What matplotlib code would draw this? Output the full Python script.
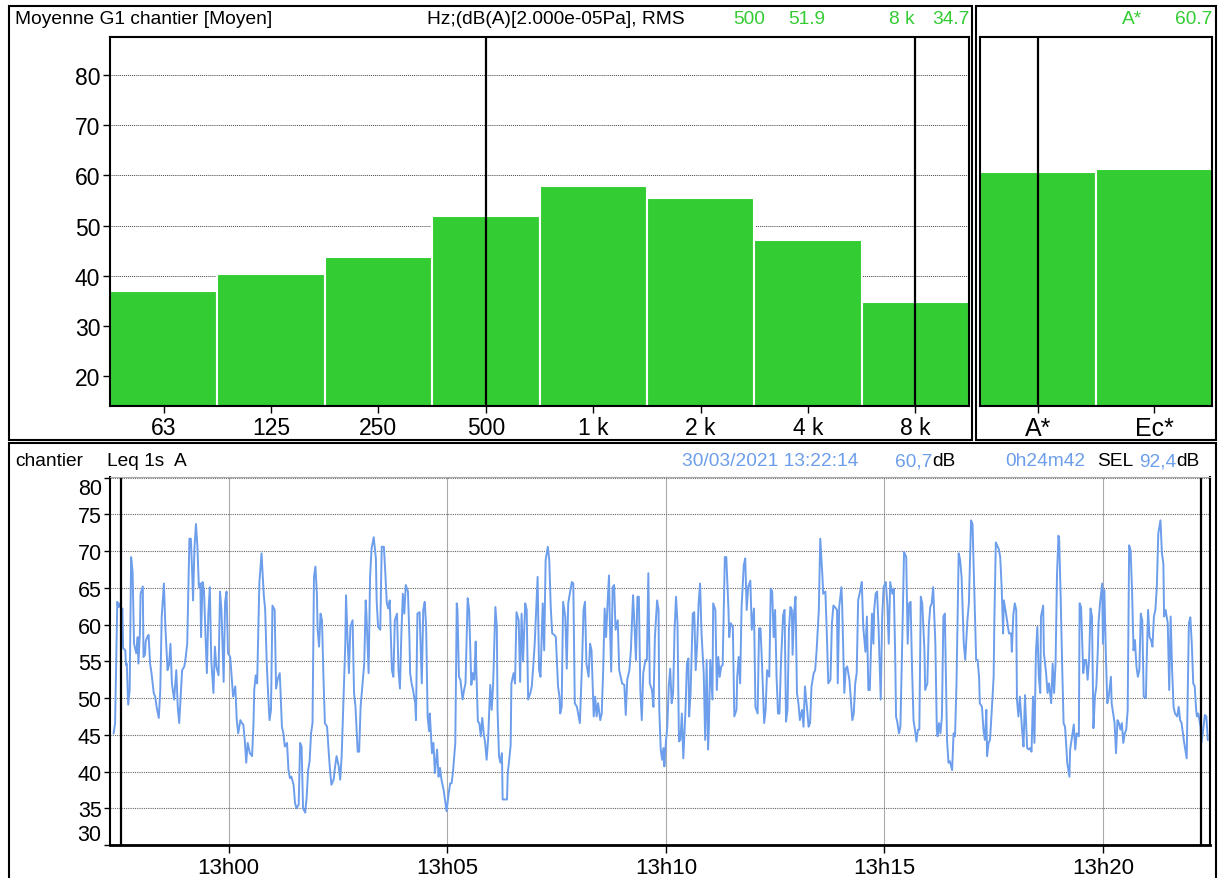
import matplotlib.pyplot as plt
import matplotlib.dates as mdates
from matplotlib.patches import Rectangle
import numpy as np
import pandas as pd

plt.rcParams['font.family'] = ['Liberation Sans', 'DejaVu Sans']

# octave spectrum (dB(A))
bands = ['63', '125', '250', '500', '1 k', '2 k', '4 k', '8 k']
band_db = [37.0, 40.3, 43.7, 51.9, 57.8, 55.5, 47.1, 34.7]
glob_labels = ['A*', 'Ec*']
glob_db = [60.7, 61.2]

# Leq 1s A, (seconds after 12:57:17, dB)
start = '2021-03-30 12:57:17'
t_cursor = ['2021-03-30 12:57:32', '2021-03-30 13:22:14']
leq_1s = [
    (5, 45.2), (7, 46.6), (10, 63.1), (12, 62.4), (14, 62.9), (16, 61.7), (17, 62.2), (18, 56.8),
    (21, 56.5), (22, 54.5), (23, 54.7), (25, 49.1), (27, 51.1), (29, 69.2), (31, 67.2), (33, 57.4),
    (36, 56.1), (38, 58.3), (39, 54.7), (41, 58.8), (42, 64.2), (45, 65.2), (46, 55.6), (48, 55.9),
    (49, 57.7), (51, 58.3), (53, 58.6), (55, 54.7), (57, 53.4), (60, 50.7), (62, 50.2), (64, 48.8),
    (67, 47.3), (69, 51.1), (71, 61.1), (74, 65.6), (76, 59.7), (79, 53.8), (81, 54.5), (83, 57.4),
    (85, 52.0), (88, 49.8), (91, 53.8), (93, 48.8), (95, 46.6), (97, 50.2), (99, 53.8), (102, 54.3),
    (104, 55.6), (106, 57.4), (109, 71.7), (111, 71.7), (113, 66.5), (114, 63.3), (116, 70.6), (118, 73.7),
    (120, 70.6), (122, 65.1), (124, 65.6), (125, 58.3), (127, 65.8), (129, 64.7), (131, 58.8), (133, 53.4),
    (135, 61.5), (137, 65.1), (139, 55.2), (142, 50.7), (144, 57.0), (146, 54.3), (149, 53.1), (151, 64.5),
    (153, 62.0), (156, 52.2), (158, 63.1), (160, 64.5), (162, 56.1), (165, 55.6), (167, 52.9), (169, 50.2),
    (172, 51.6), (174, 47.0), (176, 45.2), (179, 47.0), (181, 46.6), (183, 46.4), (185, 44.3), (187, 41.2),
    (189, 43.9), (192, 42.5), (195, 42.1), (197, 46.6), (198, 51.1), (200, 53.1), (202, 52.0), (205, 65.6),
    (208, 69.7), (211, 64.2), (213, 62.0), (215, 55.2), (217, 50.7), (219, 47.0), (221, 48.4), (223, 62.6),
    (226, 62.0), (228, 51.3), (230, 52.5), (233, 53.4), (234, 51.1), (236, 46.1), (238, 45.2), (240, 43.4),
    (243, 43.9), (245, 40.2), (247, 39.1), (249, 39.3), (252, 38.2), (254, 35.7), (256, 35.0), (259, 35.5),
    (261, 43.9), (263, 43.4), (265, 35.0), (268, 34.4), (270, 36.6), (272, 40.2), (274, 41.4), (276, 45.2),
    (278, 46.6), (280, 66.5), (282, 67.9), (284, 64.2), (285, 59.3), (287, 57.0), (289, 61.5), (291, 60.6),
    (293, 52.9), (295, 46.6), (298, 46.1), (300, 43.0), (302, 40.2), (304, 38.2), (307, 38.9), (309, 40.7),
    (311, 42.1), (314, 40.7), (316, 38.9), (318, 42.1), (320, 48.4), (323, 57.4), (324, 64.0), (326, 58.3),
    (328, 53.4), (330, 59.7), (333, 60.6), (335, 50.7), (337, 48.8), (340, 42.7), (342, 42.7), (344, 48.8),
    (346, 51.1), (349, 54.7), (351, 63.3), (352, 61.5), (355, 53.4), (357, 66.5), (359, 70.3), (362, 71.9),
    (365, 69.0), (366, 63.3), (368, 59.7), (371, 59.3), (373, 70.6), (376, 70.6), (378, 66.9), (380, 62.9),
    (382, 62.2), (384, 63.3), (387, 53.8), (389, 52.9), (391, 60.6), (394, 61.5), (396, 53.8), (398, 51.3),
    (400, 58.8), (402, 64.2), (404, 61.5), (406, 65.4), (409, 64.5), (411, 58.3), (412, 53.4), (414, 52.0),
    (416, 51.1), (419, 49.3), (420, 47.0), (422, 61.5), (425, 61.7), (428, 52.0), (430, 62.0), (432, 63.1),
    (434, 59.7), (436, 47.5), (438, 45.5), (439, 47.9), (442, 42.5), (444, 43.9), (446, 39.8), (449, 43.0),
    (451, 39.3), (453, 40.5), (455, 38.9), (458, 37.5), (460, 36.0), (462, 34.6), (465, 37.1), (467, 38.4),
    (469, 38.4), (471, 40.2), (474, 43.9), (476, 62.9), (477, 62.0), (479, 52.9), (481, 52.5), (484, 49.8),
    (486, 51.1), (488, 52.0), (491, 63.6), (493, 62.0), (496, 51.8), (498, 53.4), (500, 52.5), (502, 57.7),
    (503, 53.4), (505, 46.8), (507, 46.6), (509, 44.8), (511, 47.3), (513, 45.2), (515, 43.9), (517, 41.6),
    (519, 44.3), (522, 51.8), (524, 48.4), (526, 52.0), (529, 62.4), (531, 59.7), (532, 48.4), (534, 42.1),
    (536, 41.2), (538, 42.5), (539, 36.2), (541, 36.2), (545, 36.2), (546, 39.8), (548, 41.6), (550, 43.6),
    (551, 52.0), (554, 53.4), (556, 52.0), (558, 61.7), (561, 60.6), (563, 52.2), (565, 61.5), (567, 55.0),
    (570, 62.9), (572, 62.0), (574, 49.8), (577, 50.7), (579, 51.6), (581, 54.3), (583, 57.4), (587, 66.5),
    (589, 53.8), (591, 52.9), (594, 62.9), (596, 56.5), (598, 68.8), (601, 70.6), (603, 68.8), (605, 62.4),
    (607, 58.8), (610, 58.6), (612, 58.3), (615, 51.6), (617, 50.2), (618, 47.9), (620, 48.8), (622, 63.1),
    (625, 61.1), (627, 54.0), (629, 62.9), (632, 64.7), (634, 65.8), (636, 65.6), (638, 49.3), (641, 48.8),
    (643, 47.7), (645, 46.6), (648, 54.7), (650, 62.0), (652, 63.1), (654, 54.7), (657, 52.9), (659, 57.4),
    (661, 56.5), (664, 47.5), (666, 50.2), (668, 47.5), (670, 49.3), (673, 47.0), (675, 47.9), (677, 53.8),
    (679, 62.2), (681, 58.3), (683, 62.9), (685, 66.7), (686, 61.1), (688, 53.6), (690, 65.1), (692, 65.4),
    (694, 59.3), (697, 60.6), (699, 53.8), (701, 52.9), (703, 52.0), (706, 51.8), (708, 47.7), (710, 52.5),
    (713, 53.8), (715, 56.5), (718, 64.0), (719, 62.0), (722, 55.2), (724, 63.8), (726, 63.8), (728, 51.1),
    (730, 47.0), (732, 53.4), (735, 55.2), (737, 55.2), (739, 67.0), (741, 52.0), (744, 51.1), (746, 48.8),
    (748, 58.3), (751, 63.3), (753, 62.0), (754, 48.4), (756, 43.0), (758, 41.6), (760, 43.2), (761, 40.7),
    (763, 43.9), (765, 46.1), (767, 51.6), (769, 54.0), (771, 49.3), (773, 50.7), (775, 59.3), (777, 63.8),
    (779, 60.2), (781, 44.1), (783, 44.3), (785, 47.9), (787, 41.8), (790, 48.4), (792, 54.7), (794, 55.4),
    (795, 47.5), (797, 50.7), (800, 61.5), (802, 61.7), (804, 53.8), (806, 57.4), (808, 62.9), (810, 65.6),
    (812, 58.8), (815, 53.4), (817, 44.3), (819, 55.2), (821, 43.0), (822, 45.7), (824, 55.2), (827, 49.8),
    (828, 62.9), (831, 62.0), (833, 51.1), (835, 55.6), (837, 52.9), (839, 54.3), (841, 54.5), (844, 69.2),
    (846, 69.2), (849, 62.0), (850, 58.3), (852, 60.2), (855, 59.7), (857, 47.5), (860, 48.4), (861, 52.9),
    (863, 55.6), (865, 52.0), (867, 62.4), (870, 68.1), (872, 69.0), (874, 62.0), (876, 65.1), (879, 66.0),
    (881, 59.3), (884, 62.2), (886, 48.8), (889, 47.9), (891, 59.5), (893, 59.5), (895, 54.7), (898, 46.6),
    (900, 48.4), (902, 53.8), (905, 52.9), (907, 64.9), (909, 64.5), (911, 58.3), (913, 62.0), (915, 52.9),
    (917, 47.9), (919, 47.9), (921, 54.7), (924, 61.3), (926, 62.0), (928, 46.8), (930, 48.4), (932, 59.3),
    (934, 62.4), (936, 62.0), (937, 55.9), (939, 61.5), (941, 63.8), (943, 50.7), (945, 49.3), (947, 47.0),
    (950, 48.4), (952, 46.1), (954, 51.6), (957, 48.4), (959, 46.1), (961, 46.6), (963, 51.6), (966, 53.4),
    (968, 53.8), (970, 56.5), (973, 62.0), (975, 71.7), (978, 66.5), (979, 64.2), (982, 64.5), (984, 58.8),
    (986, 52.0), (989, 52.5), (991, 60.2), (993, 62.6), (995, 62.4), (998, 62.0), (999, 52.0), (1001, 62.4),
    (1004, 65.1), (1005, 62.9), (1008, 50.7), (1010, 54.0), (1012, 54.3), (1015, 52.5), (1017, 49.8), (1019, 47.0),
    (1021, 47.9), (1023, 52.0), (1025, 53.4), (1027, 63.3), (1030, 64.7), (1032, 65.8), (1034, 59.7), (1037, 56.3),
    (1039, 61.1), (1041, 51.1), (1043, 51.1), (1046, 61.5), (1048, 57.4), (1049, 62.0), (1051, 64.2), (1053, 64.5),
    (1055, 59.7), (1058, 49.8), (1060, 61.1), (1062, 65.1), (1065, 65.8), (1067, 62.9), (1069, 57.4), (1071, 65.8),
    (1074, 64.2), (1076, 64.9), (1078, 55.0), (1079, 47.5), (1081, 46.6), (1083, 45.2), (1085, 46.1), (1087, 55.2),
    (1090, 69.9), (1093, 69.2), (1095, 57.4), (1097, 62.9), (1099, 63.1), (1101, 54.0), (1103, 47.0), (1105, 45.7),
    (1107, 44.1), (1109, 45.7), (1111, 45.7), (1113, 63.8), (1115, 62.9), (1118, 56.5), (1119, 51.1), (1122, 52.0),
    (1124, 59.9), (1126, 62.4), (1128, 62.9), (1130, 65.1), (1133, 57.4), (1135, 45.7), (1136, 44.8), (1138, 46.6),
    (1140, 45.2), (1142, 47.5), (1144, 61.1), (1146, 61.5), (1149, 44.3), (1151, 41.2), (1153, 41.4), (1156, 40.2),
    (1158, 45.2), (1160, 44.8), (1162, 52.0), (1165, 69.7), (1167, 68.8), (1169, 66.5), (1172, 57.4), (1174, 55.2),
    (1177, 60.6), (1179, 62.9), (1182, 74.2), (1184, 73.7), (1186, 66.5), (1189, 55.2), (1191, 55.2), (1193, 52.9),
    (1194, 49.3), (1197, 48.8), (1199, 45.7), (1201, 44.3), (1203, 48.4), (1204, 42.1), (1206, 43.9), (1208, 44.3),
    (1211, 49.3), (1213, 52.9), (1214, 60.6), (1216, 71.2), (1220, 70.3), (1222, 69.2), (1224, 65.1), (1226, 58.8),
    (1227, 63.3), (1230, 61.5), (1232, 60.2), (1234, 58.8), (1237, 58.8), (1238, 56.3), (1240, 61.3), (1242, 62.9),
    (1244, 62.0), (1245, 49.8), (1247, 47.5), (1249, 50.2), (1252, 45.7), (1254, 43.4), (1256, 50.4), (1259, 43.2),
    (1261, 43.0), (1263, 43.2), (1265, 42.7), (1267, 50.2), (1269, 43.9), (1271, 56.1), (1273, 59.7), (1275, 52.9),
    (1277, 50.7), (1278, 61.1), (1281, 62.6), (1282, 56.1), (1285, 53.4), (1287, 50.7), (1289, 52.0), (1292, 49.3),
    (1294, 54.7), (1296, 50.7), (1298, 54.7), (1300, 66.9), (1302, 72.1), (1303, 71.5), (1305, 63.8), (1307, 54.7),
    (1309, 46.6), (1311, 46.1), (1313, 43.0), (1314, 41.2), (1317, 39.3), (1318, 43.0), (1320, 44.3), (1323, 46.4),
    (1325, 43.0), (1327, 45.2), (1330, 44.8), (1331, 62.9), (1333, 62.4), (1336, 53.4), (1338, 55.2), (1340, 55.2),
    (1342, 52.5), (1344, 55.2), (1346, 62.2), (1348, 61.1), (1350, 45.9), (1352, 50.2), (1354, 51.6), (1356, 56.5),
    (1357, 60.2), (1359, 62.9), (1362, 65.6), (1363, 57.4), (1365, 64.7), (1367, 56.1), (1369, 49.3), (1371, 50.2),
    (1374, 52.9), (1375, 49.3), (1377, 47.9), (1379, 46.6), (1381, 42.5), (1383, 47.0), (1385, 46.6), (1387, 45.7),
    (1389, 46.6), (1391, 43.9), (1393, 45.2), (1395, 45.7), (1397, 48.4), (1399, 70.8), (1401, 70.1), (1403, 64.7),
    (1405, 56.5), (1407, 57.9), (1409, 54.3), (1411, 52.9), (1413, 53.8), (1415, 61.5), (1417, 60.6), (1419, 50.2),
    (1422, 50.0), (1423, 54.7), (1425, 62.0), (1427, 58.3), (1429, 57.9), (1431, 57.0), (1433, 61.1), (1435, 62.0),
    (1437, 65.1), (1439, 72.4), (1442, 74.2), (1444, 69.7), (1446, 68.3), (1447, 61.1), (1449, 62.0), (1452, 60.2),
    (1454, 51.1), (1456, 61.1), (1458, 53.8), (1460, 48.8), (1462, 47.9), (1465, 47.5), (1467, 48.8), (1469, 47.0),
    (1471, 46.6), (1474, 44.3), (1476, 43.0), (1478, 41.8), (1481, 60.2), (1483, 61.0), (1485, 57.4), (1487, 52.0),
    (1489, 51.6), (1491, 48.4), (1492, 47.5), (1494, 47.9), (1497, 46.1), (1498, 43.9), (1500, 45.2), (1503, 47.7),
    (1505, 47.5), (1507, 44.3),
]

GREEN = '#33cc33'
BLUE = '#6d9eeb'
W, H = 1220, 879


def fx(px):
    return px / W


def fy(py):
    return 1 - py / H


fig = plt.figure(figsize=(W / 100, H / 100), dpi=100)

# panel frames
for x0, y0, x1, y1 in [(9, 7, 972, 441), (976, 7, 1216, 441), (9, 444, 1216, 900)]:
    fig.add_artist(Rectangle((fx(x0), fy(y1)), (x1 - x0) / W, (y1 - y0) / H,
                             fill=False, lw=1.5, ec='black', transform=fig.transFigure))

# ---- spectrum ----
ax1 = fig.add_axes([fx(110), fy(407), (969 - 110) / W, (407 - 38) / H])
xb = np.arange(len(bands))
ax1.bar(xb, band_db, width=1.0, color=GREEN, edgecolor='white', linewidth=1.5)
ax1.set_axisbelow(True)
ax1.set_xlim(-0.5, len(bands) - 0.5)
ax1.set_ylim(14, 87.6)
ax1.set_yticks(range(20, 81, 10))
ax1.set_xticks(xb, bands)
ax1.yaxis.grid(True, linestyle=(0, (1, 1)), color='#444444', lw=0.7)
ax1.axvline(3, color='black', lw=1.6)
ax1.axvline(7, color='black', lw=1.6)
ax1.tick_params(labelsize=16.5, length=5, width=1, pad=2)
for s in ax1.spines.values():
    s.set_linewidth(1.5)

ax2 = fig.add_axes([fx(980), fy(407), (1212 - 980) / W, (407 - 38) / H])
ax2.bar([0, 1], glob_db, width=1.0, color=GREEN, edgecolor='white', linewidth=1.5)
ax2.set_xlim(-0.5, 1.5)
ax2.set_ylim(14, 87.6)
ax2.set_yticks([])
ax2.set_xticks([0, 1], glob_labels)
ax2.axvline(0, color='black', lw=1.6)
ax2.tick_params(labelsize=18, length=5, width=1, pad=2)
for s in ax2.spines.values():
    s.set_linewidth(1.5)

# ---- time history ----
t0 = pd.Timestamp(start)
secs, vals = zip(*leq_1s)
times = (t0 + pd.to_timedelta(list(secs), unit='s')).to_numpy()

ax3 = fig.add_axes([fx(110), fy(846), (1210 - 110) / W, (846 - 478) / H])
ax3.plot(times, vals, color=BLUE, lw=1.4)
ax3.set_xlim(t0.to_numpy(), (t0 + pd.Timedelta(seconds=1510)).to_numpy())
ax3.set_ylim(30, 80.1)
ax3.set_yticks(range(30, 81, 5))
ax3.xaxis.set_major_locator(mdates.MinuteLocator(byminute=range(0, 60, 5)))
ax3.xaxis.set_major_formatter(mdates.DateFormatter('%Hh%M'))
ax3.yaxis.grid(True, linestyle=(0, (1, 1)), color='#666666', lw=0.8)
ax3.xaxis.grid(True, color='#aaaaaa', lw=0.8)
for tc in t_cursor:
    ax3.axvline(pd.Timestamp(tc).to_numpy(), color='black', lw=1.6)
ax3.tick_params(axis='x', labelsize=16, length=6, width=1, pad=3)
ax3.tick_params(axis='y', labelsize=15.5, length=4, width=1, pad=2)
ax3.spines['top'].set_color('#aaaaaa')
ax3.spines['left'].set_linewidth(1.5)
ax3.spines['bottom'].set_linewidth(2)
ax3.spines['right'].set_linewidth(1.5)
yt = ax3.yaxis.get_major_ticks()
yt[0].label1.set_va('bottom')
yt[-1].label1.set_va('top')

# ---- headers ----
hs = 13.8
fig.text(fx(15), fy(20), 'Moyenne G1 chantier [Moyen]', fontsize=hs, va='center')
fig.text(fx(427), fy(20), 'Hz;(dB(A)[2.000e-05Pa], RMS', fontsize=hs, va='center')
fig.text(fx(733), fy(20), '500', fontsize=hs, va='center', color=GREEN)
fig.text(fx(825), fy(20), '51.9', fontsize=hs, va='center', ha='right', color=GREEN)
fig.text(fx(889), fy(20), '8 k', fontsize=hs, va='center', color=GREEN)
fig.text(fx(970), fy(20), '34.7', fontsize=hs, va='center', ha='right', color=GREEN)
fig.text(fx(1122), fy(20), 'A*', fontsize=hs, va='center', color=GREEN)
fig.text(fx(1212), fy(20), '60.7', fontsize=hs, va='center', ha='right', color=GREEN)

fig.text(fx(15), fy(462), 'chantier', fontsize=hs, va='center')
fig.text(fx(107), fy(462), 'Leq 1s  A', fontsize=hs, va='center')
fig.text(fx(858), fy(462), '30/03/2021 13:22:14', fontsize=hs, va='center', ha='right', color=BLUE)
fig.text(fx(932), fy(462), '60,7', fontsize=hs, va='center', ha='right', color=BLUE)
fig.text(fx(932), fy(462), 'dB', fontsize=hs, va='center')
fig.text(fx(1085), fy(462), '0h24m42', fontsize=hs, va='center', ha='right', color=BLUE)
fig.text(fx(1097), fy(462), 'SEL', fontsize=hs, va='center')
fig.text(fx(1176), fy(462), '92,4', fontsize=hs, va='center', ha='right', color=BLUE)
fig.text(fx(1176), fy(462), 'dB', fontsize=hs, va='center')

fig.savefig('out.png', dpi=100)
